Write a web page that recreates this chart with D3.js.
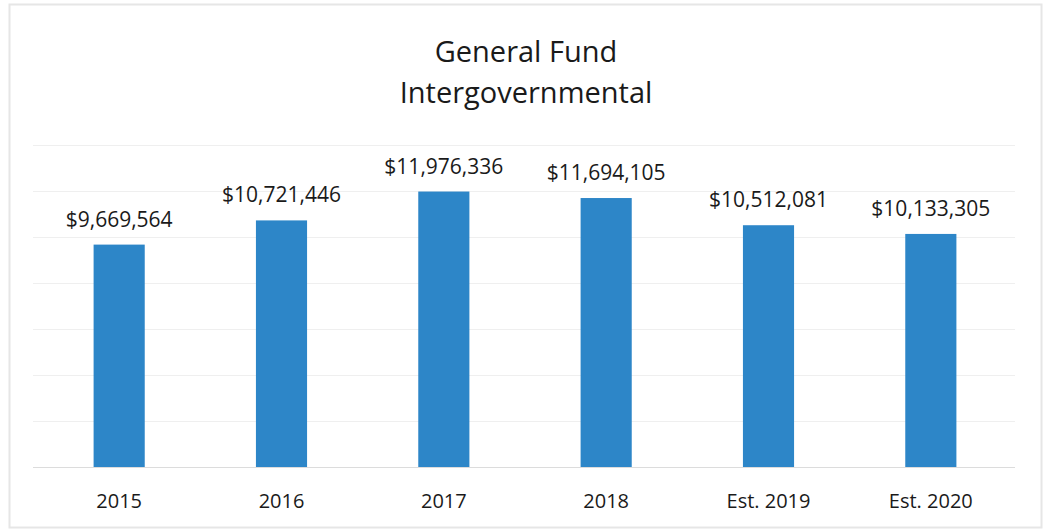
<!DOCTYPE html>
<html>
<head>
<meta charset="utf-8">
<script src="https://cdn.jsdelivr.net/npm/d3@7"></script>
<style>
  html, body { margin: 0; padding: 0; background: #fff; }
  svg { display: block; }
</style>
</head>
<body>
<svg id="chart" width="1049" height="531"></svg>
<script>
const titleLines = ["General Fund", "Intergovernmental"];
const categories = ["2015", "2016", "2017", "2018", "Est. 2019", "Est. 2020"];
const values = [9669564, 10721446, 11976336, 11694105, 10512081, 10133305];
const yTicks = [0, 2000000, 4000000, 6000000, 8000000, 10000000, 12000000, 14000000];

const W = 1049, H = 531;
const svg = d3.select("#chart");
const font = "'Open Sans', 'DejaVu Sans', sans-serif";

// chart frame
svg.append("rect")
  .attr("x", 9.5).attr("y", 4.5)
  .attr("width", 1032).attr("height", 523)
  .attr("fill", "#fff")
  .attr("stroke", "#e6e6e6")
  .attr("stroke-width", 2);

const margin = { left: 38, right: 37, top: 145, bottom: 64 };
const x = d3.scaleBand()
  .domain(categories)
  .range([margin.left, W - margin.right])
  .paddingInner(0.685)
  .paddingOuter(0.3425);
const y = d3.scaleLinear()
  .domain([0, 14000000])
  .range([H - margin.bottom, margin.top]);

// gridlines
svg.append("g")
  .selectAll("line")
  .data(yTicks)
  .join("line")
  .attr("x1", 33).attr("x2", 1015)
  .attr("y1", d => Math.round(y(d)) + 0.5)
  .attr("y2", d => Math.round(y(d)) + 0.5)
  .attr("stroke", d => d === 0 ? "#dcdcdc" : "#efefef")
  .attr("stroke-width", 1.2);

// bars
svg.append("g")
  .selectAll("rect")
  .data(values)
  .join("rect")
  .attr("x", (d, i) => x(categories[i]))
  .attr("width", x.bandwidth())
  .attr("y", d => y(d))
  .attr("height", d => y(0) - y(d))
  .attr("fill", "#2d86c8");

// value labels
const fmt = d3.format("$,.0f");
svg.append("g")
  .selectAll("text")
  .data(values)
  .join("text")
  .attr("x", (d, i) => x(categories[i]) + x.bandwidth() / 2)
  .attr("y", d => y(d) - 18)
  .attr("text-anchor", "middle")
  .attr("font-family", font)
  .attr("font-size", 21)
  .attr("fill", "#1a1a1a")
  .text(d => fmt(d));

// category axis labels
svg.append("g")
  .selectAll("text")
  .data(categories)
  .join("text")
  .attr("x", d => x(d) + x.bandwidth() / 2)
  .attr("y", 508)
  .attr("text-anchor", "middle")
  .attr("font-family", font)
  .attr("font-size", 20)
  .attr("fill", "#1a1a1a")
  .text(d => d);

// title
svg.append("g")
  .selectAll("text")
  .data(titleLines)
  .join("text")
  .attr("x", 526)
  .attr("y", (d, i) => 62 + i * 41)
  .attr("text-anchor", "middle")
  .attr("font-family", font)
  .attr("font-size", 29)
  .attr("fill", "#1a1a1a")
  .text(d => d);
</script>
</body>
</html>
